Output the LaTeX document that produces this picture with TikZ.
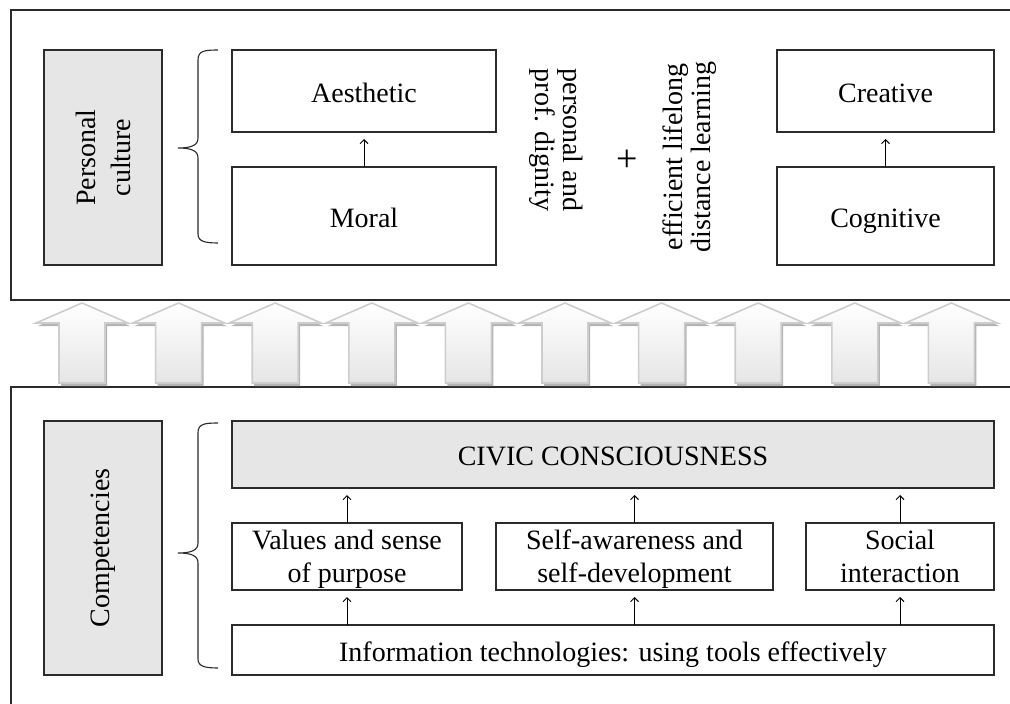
\documentclass[tikz,border=0pt]{standalone}
\usepackage{fontspec}
\setmainfont{Liberation Serif}
\usetikzlibrary{arrows.meta}
\definecolor{boxgray}{HTML}{E6E6E6}
\definecolor{framecol}{HTML}{2B2B2B}
\definecolor{arrowedge}{HTML}{CDCDCD}
\definecolor{arrowshade}{HTML}{B4B4B4}
\tikzset{
  panel/.style={draw=framecol, line width=1.6pt},
  box/.style={draw=framecol, line width=1.3pt, fill=white, inner sep=0pt, outer sep=0pt,
    align=center, font=\fontsize{28}{33}\selectfont},
  oneline/.style={text height=24pt, text depth=2pt},
  twoline/.style={text depth=0pt},
  greybox/.style={box, fill=boxgray},
  plain/.style={inner sep=0pt, align=center, font=\fontsize{28}{28}\selectfont},
  link/.style={draw=black, line width=1pt, -{Straight Barb[length=4pt,width=8pt]}, shorten >=7pt},
  bracestyle/.style={draw=framecol, line width=1.1pt},
}
\begin{document}
\begin{tikzpicture}[x=1pt,y=-1pt]
\useasboundingbox (0,0) rectangle (1010,704);
\fill[white] (0,0) rectangle (1010,704);

% the two panels run off the right and bottom edges
\begin{scope}
  \clip (0,0) rectangle (1010,704);
  \draw[panel] (11,10) rectangle (1040,300);
  \draw[panel] (11,387) rectangle (1040,740);
\end{scope}

% ---------- upper panel ----------
\node[greybox, rotate=90, minimum width=215pt, minimum height=118pt, font=\fontsize{28}{35}\selectfont] (pc) at (103,157.5) {Personal\\culture};

\draw[bracestyle] (218,50) .. controls (204,50) and (198,51) .. (198,60) -- (198,138)
  .. controls (198,145) and (192,148) .. (178,148)
  .. controls (192,148) and (198,151) .. (198,158) -- (198,234)
  .. controls (198,241) and (204,243) .. (218,243);

\node[box, oneline, minimum width=264pt, minimum height=82pt] (aes) at (364,91) {Aesthetic};
\node[box, oneline, minimum width=264pt, minimum height=98pt] (mor) at (364,216) {Moral};
\node[box, oneline, minimum width=217pt, minimum height=82pt] (cre) at (885.5,91) {Creative};
\node[box, oneline, minimum width=217pt, minimum height=98pt] (cog) at (885.5,216) {Cognitive};

\node[plain, rotate=-90] (dig) at (556,140) {personal and\\prof. dignity};
\node[plain, font=\fontsize{38}{38}\selectfont] (plus) at (627,161) {+};
\node[plain, rotate=90] (lll) at (690,157) {efficient lifelong\\distance learning};

\draw[link] (mor.north) -- (aes.south);
\draw[link] (cog.north) -- (cre.south);

% ---------- row of block arrows ----------
\foreach \i in {0,...,9} {
  \pgfmathsetmacro\cx{82+96.6*\i}
  \fill[arrowshade, shift={(2,3)}]
    (\cx,303) -- (\cx+46,323) -- (\cx+23,323) -- (\cx+23,383) -- (\cx-23,383) -- (\cx-23,323) -- (\cx-46,323) -- cycle;
  \shade[top color=white, bottom color=gray!20, draw=arrowedge, line width=1.6pt, line join=miter]
    (\cx,303) -- (\cx+46,323) -- (\cx+23,323) -- (\cx+23,383) -- (\cx-23,383) -- (\cx-23,323) -- (\cx-46,323) -- cycle;
}

% ---------- lower panel ----------
\node[greybox, rotate=90, minimum width=254pt, minimum height=118pt] (comp) at (103,548) {Competencies};

\draw[bracestyle] (218,423) .. controls (204,423) and (198,424) .. (198,433) -- (198,543)
  .. controls (198,550) and (192,553) .. (178,553)
  .. controls (192,553) and (198,556) .. (198,563) -- (198,659)
  .. controls (198,666) and (204,668) .. (218,668);

\node[greybox, oneline, minimum width=762pt, minimum height=67pt] (civ) at (613,454.5) {CIVIC CONSCIOUSNESS};
\node[box, twoline, minimum width=230pt, minimum height=67pt] (val) at (347,556.5) {Values and sense\\of purpose};
\node[box, twoline, minimum width=277pt, minimum height=67pt] (self) at (634.5,556.5) {Self-awareness and\\self-development};
\node[box, twoline, minimum width=188pt, minimum height=67pt] (soc) at (900,556.5) {Social\\interaction};
\node[box, oneline, minimum width=762pt, minimum height=50pt] (info) at (613,650) {Information technologies: using tools effectively};

\draw[link] (val.north) -- (val.north |- civ.south);
\draw[link] (self.north) -- (self.north |- civ.south);
\draw[link] (soc.north) -- (soc.north |- civ.south);
\draw[link] (val.south |- info.north) -- (val.south);
\draw[link] (self.south |- info.north) -- (self.south);
\draw[link] (soc.south |- info.north) -- (soc.south);
\end{tikzpicture}
\end{document}
